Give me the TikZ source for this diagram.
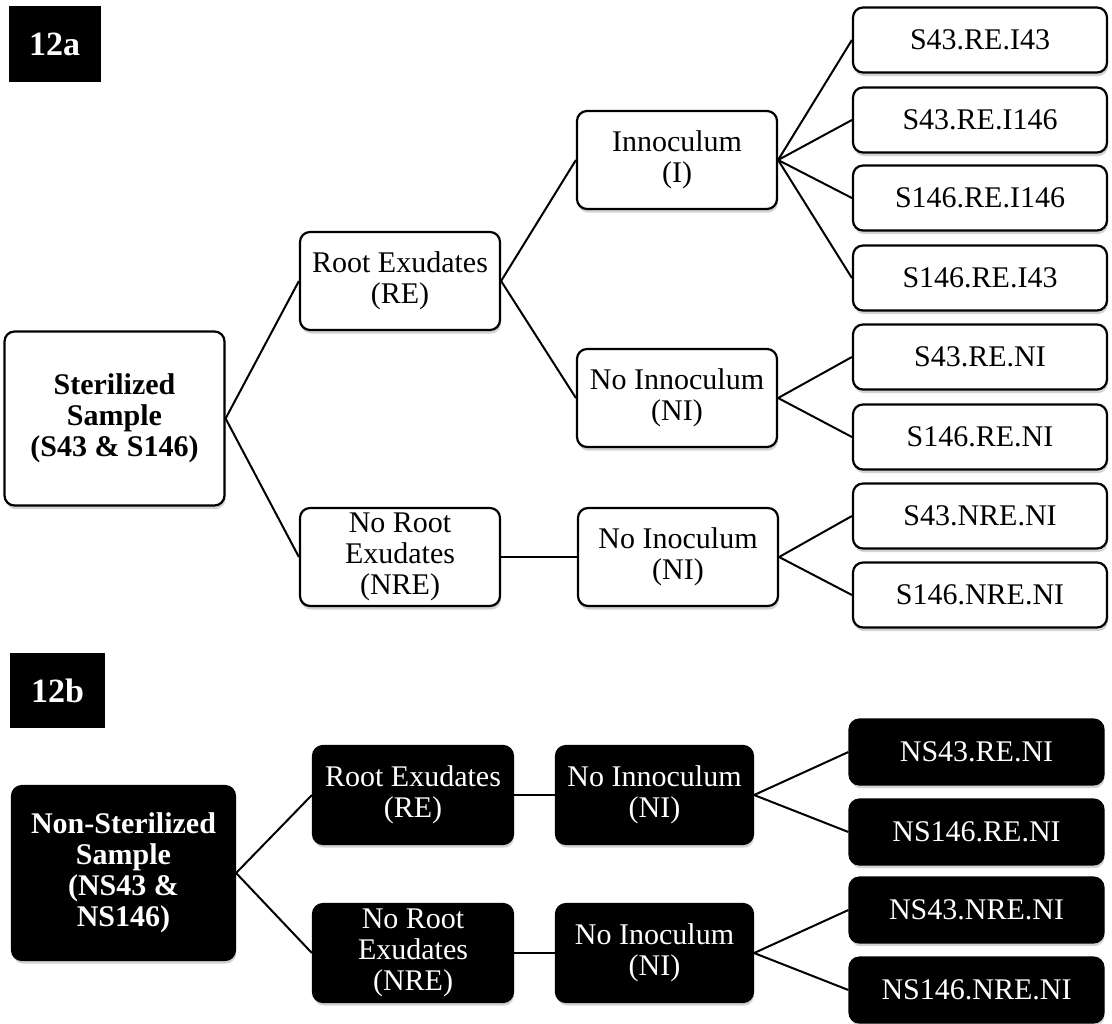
\documentclass[tikz,border=0pt]{standalone}
\usepackage{fontspec}
\setmainfont{Liberation Serif}
\usetikzlibrary{positioning,shadows}

\begin{document}
\begin{tikzpicture}[x=0.5pt,y=-0.5pt,
	box/.style={rounded corners=5pt,draw=black,line width=1.1pt,inner sep=0pt,align=center,font=\fontsize{15}{15.5}\selectfont,drop shadow={shadow xshift=0.5pt,shadow yshift=-1.8pt,opacity=0.35}},
	sterile/.style={box,fill=white,text=black},
	nonsterile/.style={box,fill=black,text=white},
	rootbox/.style={minimum width=110pt,minimum height=87pt,font=\fontsize{15}{15.5}\selectfont\bfseries},
	midbox/.style={minimum width=100pt,minimum height=49pt},
	leafbox/.style={minimum width=127pt,minimum height=32.5pt},
	link/.style={line width=1pt},
	tag/.style={fill=black,text=white,inner sep=0pt,minimum width=46pt,minimum height=38pt,font=\fontsize{17}{17}\selectfont\bfseries}]
	\useasboundingbox (0,0) rectangle (1112,1023);
	\node[tag] at (54.5,44) (tagA) {12a};
	\node[sterile,rootbox] at (114.5,418.5) (sA) {Sterilized\\Sample\\(S43 \& S146)};
	\node[sterile,midbox] at (400,281) (reA) {Root Exudates\\(RE)};
	\node[sterile,midbox] at (400,557) (nreA) {No Root\\Exudates\\(NRE)};
	\node[sterile,midbox] at (677,160) (iA) {Innoculum\\(I)};
	\node[sterile,midbox] at (677,398) (niA) {No Innoculum\\(NI)};
	\node[sterile,midbox] at (678,557) (nniA) {No Inoculum\\(NI)};
	\node[sterile,leafbox] at (980,40) (l1A) {S43.RE.I43};
	\node[sterile,leafbox] at (980,120) (l2A) {S43.RE.I146};
	\node[sterile,leafbox] at (980,198) (l3A) {S146.RE.I146};
	\node[sterile,leafbox] at (980,278) (l4A) {S146.RE.I43};
	\node[sterile,leafbox] at (980,357) (l5A) {S43.RE.NI};
	\node[sterile,leafbox] at (980,437) (l6A) {S146.RE.NI};
	\node[sterile,leafbox] at (980,516) (l7A) {S43.NRE.NI};
	\node[sterile,leafbox] at (980,595) (l8A) {S146.NRE.NI};
	\draw[link] (sA.east) -- (reA.west);
	\draw[link] (sA.east) -- (nreA.west);
	\draw[link] (reA.east) -- (iA.west);
	\draw[link] (reA.east) -- (niA.west);
	\draw[link] (nreA.east) -- (nniA.west);
	\draw[link] (iA.east) -- (l1A.west);
	\draw[link] (iA.east) -- (l2A.west);
	\draw[link] (iA.east) -- (l3A.west);
	\draw[link] (iA.east) -- (l4A.west);
	\draw[link] (niA.east) -- (l5A.west);
	\draw[link] (niA.east) -- (l6A.west);
	\draw[link] (nniA.east) -- (l7A.west);
	\draw[link] (nniA.east) -- (l8A.west);

	\node[tag,minimum width=47.5pt,minimum height=37.5pt] at (57.5,690.5) (tagB) {12b};
	\node[nonsterile,rootbox,minimum width=111.5pt] at (123.5,873) (sB) {Non-Sterilized\\Sample\\(NS43 \&\\NS146)};
	\node[nonsterile,midbox] at (413,795) (reB) {Root Exudates\\(RE)};
	\node[nonsterile,midbox] at (413,953) (nreB) {No Root\\Exudates\\(NRE)};
	\node[nonsterile,midbox,minimum width=98.5pt] at (654.5,795) (niB) {No Innoculum\\(NI)};
	\node[nonsterile,midbox,minimum width=98.5pt] at (654.5,953) (nniB) {No Inoculum\\(NI)};
	\node[nonsterile,leafbox] at (976.5,752) (l1B) {NS43.RE.NI};
	\node[nonsterile,leafbox] at (976.5,832) (l2B) {NS146.RE.NI};
	\node[nonsterile,leafbox] at (976.5,910) (l3B) {NS43.NRE.NI};
	\node[nonsterile,leafbox] at (976.5,990) (l4B) {NS146.NRE.NI};
	\draw[link] (sB.east) -- (reB.west);
	\draw[link] (sB.east) -- (nreB.west);
	\draw[link] (reB.east) -- (niB.west);
	\draw[link] (nreB.east) -- (nniB.west);
	\draw[link] (niB.east) -- (l1B.west);
	\draw[link] (niB.east) -- (l2B.west);
	\draw[link] (nniB.east) -- (l3B.west);
	\draw[link] (nniB.east) -- (l4B.west);
\end{tikzpicture}
\end{document}
